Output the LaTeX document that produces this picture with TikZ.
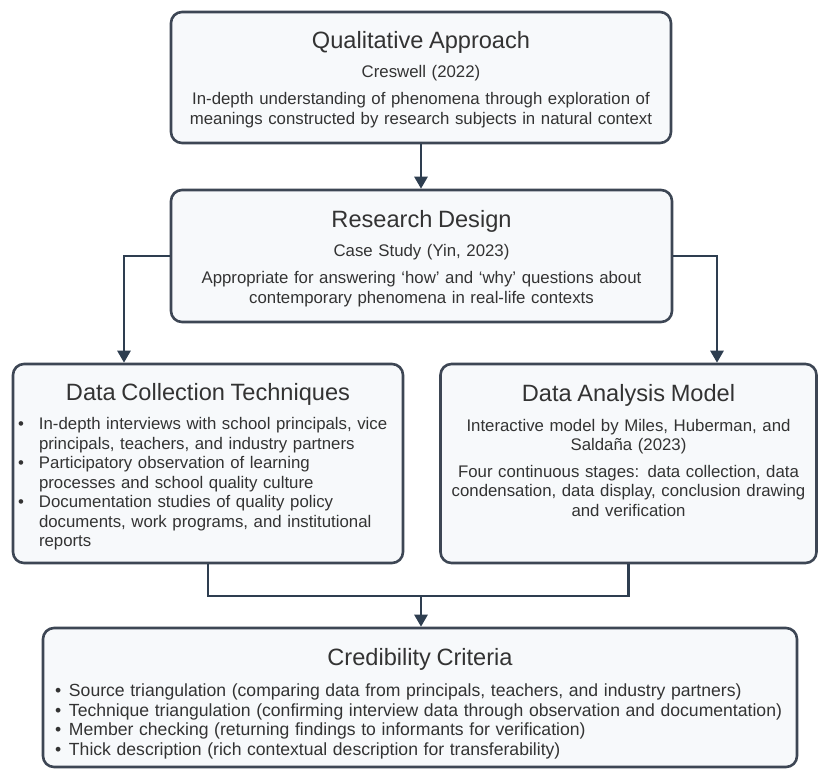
\documentclass[tikz,border=0pt]{standalone}
\usepackage{fontspec}
\setmainfont{Liberation Sans}
\usetikzlibrary{arrows.meta,positioning}
\definecolor{ink}{HTML}{333333}
\definecolor{frame}{HTML}{3D4654}
\definecolor{wire}{HTML}{2E3E50}
\definecolor{paper}{HTML}{F7F9FB}

\newcommand{\headfont}{\fontsize{23.6}{27}\selectfont}
\newcommand{\bodyfont}{\fontsize{16.8}{19.5}\selectfont}
\newcommand{\pointrow}[2][20pt]{\par\noindent\hangindent=#1\hangafter=1\makebox[#1][l]{\textbullet}#2\par}

\begin{document}
\begin{tikzpicture}[x=1pt,y=-1pt,font=\bodyfont,text=ink,
    panel/.style={draw=frame,line width=2.6pt,rounded corners=11pt,fill=paper,
                  inner sep=5pt,align=center},
    flow/.style={draw=wire,line width=2.6pt,-{Triangle[length=12pt,width=13pt]}},
    link/.style={draw=wire,line width=2.6pt}]
  \useasboundingbox[fill=white] (0,0) rectangle (818,769);

  % approach and design
  \node[panel,minimum width=500pt,minimum height=131pt,text width=490pt] (qual) at (421,77.5)
       {{\headfont Qualitative Approach}\\[9pt] Creswell (2022)\\[8pt]
        In-depth understanding of phenomena through exploration of\\
        meanings constructed by research subjects in natural context\par\vspace*{-4pt}};
  \node[panel,minimum width=501pt,minimum height=132pt,text width=490pt] (design) at (421.5,256)
       {{\headfont Research Design}\\[9pt] Case Study (Yin, 2023)\\[8pt]
        Appropriate for answering `how' and `why' questions about\\
        contemporary phenomena in real-life contexts\par\vspace*{-5pt}};

  % collection and analysis
  \node[panel,minimum width=390pt,minimum height=199pt,text width=380pt] (collect) at (208,463.5)
       {{\headfont Data Collection Techniques}\\[10pt]
        \begin{minipage}[t]{380pt}\raggedright
          \pointrow[21pt]{In-depth interviews with school principals, vice\newline
                    principals, teachers, and industry partners}
          \pointrow[21pt]{Participatory observation of learning\newline
                    processes and school quality culture}
          \pointrow[21pt]{Documentation studies of quality policy\newline
                    documents, work programs, and institutional\newline reports}
        \end{minipage}\par\vspace*{-6pt}};
  \node[panel,minimum width=376pt,minimum height=199pt,text width=366pt] (analysis) at (628.5,463.5)
       {{\headfont Data Analysis Model}\\[10pt]
        Interactive model by Miles, Huberman, and\\ Saldaña (2023)\\[7pt]
        Four continuous stages: data collection, data\\
        condensation, data display, conclusion drawing\\
        and verification\par\vspace*{26pt}};

  % credibility
  \node[panel,minimum width=754pt,minimum height=139pt,text width=744pt] (cred) at (420,697.5)
       {{\headfont Credibility Criteria}\\[12pt]
        \begin{minipage}[t]{730pt}\raggedright\fontsize{17.6}{19.5}\selectfont
          \pointrow[14pt]{Source triangulation (comparing data from principals, teachers, and industry partners)}
          \pointrow[14pt]{Technique triangulation (confirming interview data through observation and documentation)}
          \pointrow[14pt]{Member checking (returning findings to informants for verification)}
          \pointrow[14pt]{Thick description (rich contextual description for transferability)}
        \end{minipage}\par\vspace*{-12pt}};

  % connectors
  \draw[flow] (qual.south) -- (qual.south |- design.north);
  \draw[flow] (design.west) -| ([xshift=-84pt]collect.north);
  \draw[flow] (design.east) -| ([xshift=88.5pt]analysis.north);
  \coordinate (merge) at (421,596);
  \draw[link] (collect.south) |- (merge) -| (analysis.south);
  \draw[flow] (merge) -- (merge |- cred.north);
\end{tikzpicture}
\end{document}
